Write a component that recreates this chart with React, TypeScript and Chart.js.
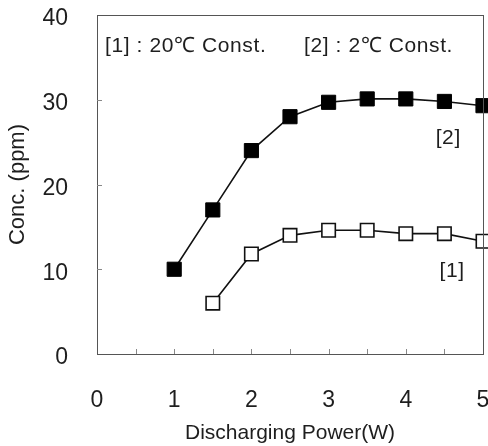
import React, { useEffect, useRef } from 'react';
import { Chart, registerables } from 'chart.js';

Chart.register(...registerables);

// ---- data ----
const xTickValues = [0, 1, 2, 3, 4, 5];
const yTickValues = [0, 10, 20, 30, 40];
const series2Power = [1, 1.5, 2, 2.5, 3, 3.5, 4, 4.5, 5];
const series2Conc = [10, 17, 24, 28, 29.7, 30.1, 30.1, 29.8, 29.3];
const series1Power = [1.5, 2, 2.5, 3, 3.5, 4, 4.5, 5];
const series1Conc = [6, 11.8, 14, 14.6, 14.6, 14.2, 14.2, 13.3];
const legendLabels = ['[1] : 20℃ Const.', '[2] : 2℃ Const.'];
const curveLabels = ['[1]', '[2]'];
const xTitle = 'Discharging Power(W)';
const yTitle = 'Conc. (ppm)';

const FONT = '"Liberation Sans", Arial, Helvetica, sans-serif';
const TEXT = '#1e1e1e';

const framePlugin = {
  id: 'framePlugin',
  afterDraw(chart: any) {
    const { ctx, chartArea, scales } = chart;
    const xs = scales.x;
    const ys = scales.y;
    ctx.save();
    // frame
    ctx.strokeStyle = '#555';
    ctx.lineWidth = 1;
    ctx.strokeRect(chartArea.left + 0.5, chartArea.top + 0.5, chartArea.right - chartArea.left, chartArea.bottom - chartArea.top);
    // inner ticks
    ctx.strokeStyle = '#888';
    ctx.beginPath();
    for (let v = 0.5; v < 5; v += 0.5) {
      const px = Math.round(xs.getPixelForValue(v)) + 0.5;
      ctx.moveTo(px, chartArea.bottom);
      ctx.lineTo(px, chartArea.bottom - 5);
    }
    for (let v = 10; v < 40; v += 10) {
      const py = Math.round(ys.getPixelForValue(v)) + 0.5;
      ctx.moveTo(chartArea.left, py);
      ctx.lineTo(chartArea.left + 5, py);
    }
    ctx.stroke();
    // legend texts
    ctx.fillStyle = TEXT;
    ctx.font = `21px ${FONT}`;
    try { (ctx as any).letterSpacing = '0.6px'; } catch (e) {}
    ctx.textBaseline = 'middle';
    ctx.textAlign = 'left';
    ctx.fillText(legendLabels[0], chartArea.left + 8, chartArea.top + 31);
    ctx.fillText(legendLabels[1], chartArea.left + 207, chartArea.top + 31);
    // curve labels
    ctx.textAlign = 'center';
    ctx.fillText(curveLabels[1], xs.getPixelForValue(4.55), ys.getPixelForValue(25.5));
    ctx.fillText(curveLabels[0], xs.getPixelForValue(4.6), ys.getPixelForValue(9.8));
    ctx.restore();
  },
};

const zeroPad = (s: any) => {
  s.paddingTop = 0;
  s.paddingBottom = 0;
  s.paddingLeft = 0;
  s.paddingRight = 0;
};

export default function App() {
  const ref = useRef<HTMLCanvasElement | null>(null);
  useEffect(() => {
    if (!ref.current) return;
    const chart = new Chart(ref.current, {
      type: 'scatter',
      data: {
        datasets: [
          {
            label: '[2]',
            data: series2Power.map((x, i) => ({ x, y: series2Conc[i] })),
            showLine: true,
            borderColor: '#111',
            borderWidth: 1.6,
            backgroundColor: '#000',
            pointStyle: 'rect',
            pointRadius: 10,
            pointBorderColor: '#000',
            pointBackgroundColor: '#000',
            pointBorderWidth: 1,
            clip: false,
          },
          {
            label: '[1]',
            data: series1Power.map((x, i) => ({ x, y: series1Conc[i] })),
            showLine: true,
            borderColor: '#111',
            borderWidth: 1.6,
            backgroundColor: '#fff',
            pointStyle: 'rect',
            pointRadius: 9.5,
            pointBorderColor: '#111',
            pointBackgroundColor: '#fff',
            pointBorderWidth: 1.6,
            clip: false,
          },
        ],
      },
      options: {
        responsive: false,
        animation: false,
        layout: { autoPadding: false, padding: { top: 15, right: 5, left: 0, bottom: 0 } },
        plugins: { legend: { display: false }, tooltip: { enabled: false } },
        scales: {
          x: {
            type: 'linear',
            min: 0,
            max: 5,
            afterBuildTicks: (s: any) => {
              s.ticks = xTickValues.map((v) => ({ value: v }));
            },
            afterFit: (s: any) => {
              s.height = 92;
              zeroPad(s);
            },
            grid: { display: false },
            border: { display: false },
            ticks: { color: TEXT, font: { family: FONT, size: 23 }, padding: 25, maxRotation: 0 },
            title: { display: true, text: xTitle, color: TEXT, font: { family: FONT, size: 21 }, padding: { top: 0, bottom: 0 } },
          },
          y: {
            type: 'linear',
            min: 0,
            max: 40,
            afterBuildTicks: (s: any) => {
              s.ticks = yTickValues.map((v) => ({ value: v }));
            },
            afterFit: (s: any) => {
              s.width = 97;
              zeroPad(s);
            },
            grid: { display: false },
            border: { display: false },
            ticks: { color: TEXT, font: { family: FONT, size: 23 }, padding: 21, labelOffset: 4 },
            title: { display: true, text: yTitle, color: TEXT, font: { family: FONT, size: 22 }, padding: { top: 5, bottom: 0 } },
          },
        },
      },
      plugins: [framePlugin],
    });
    return () => chart.destroy();
  }, []);
  return (
    <div style={{ position: 'fixed', left: 0, top: 0, width: 488, height: 446, background: '#fff' }}>
      <canvas ref={ref} width={488} height={446} style={{ width: 488, height: 446, display: 'block' }} />
    </div>
  );
}
